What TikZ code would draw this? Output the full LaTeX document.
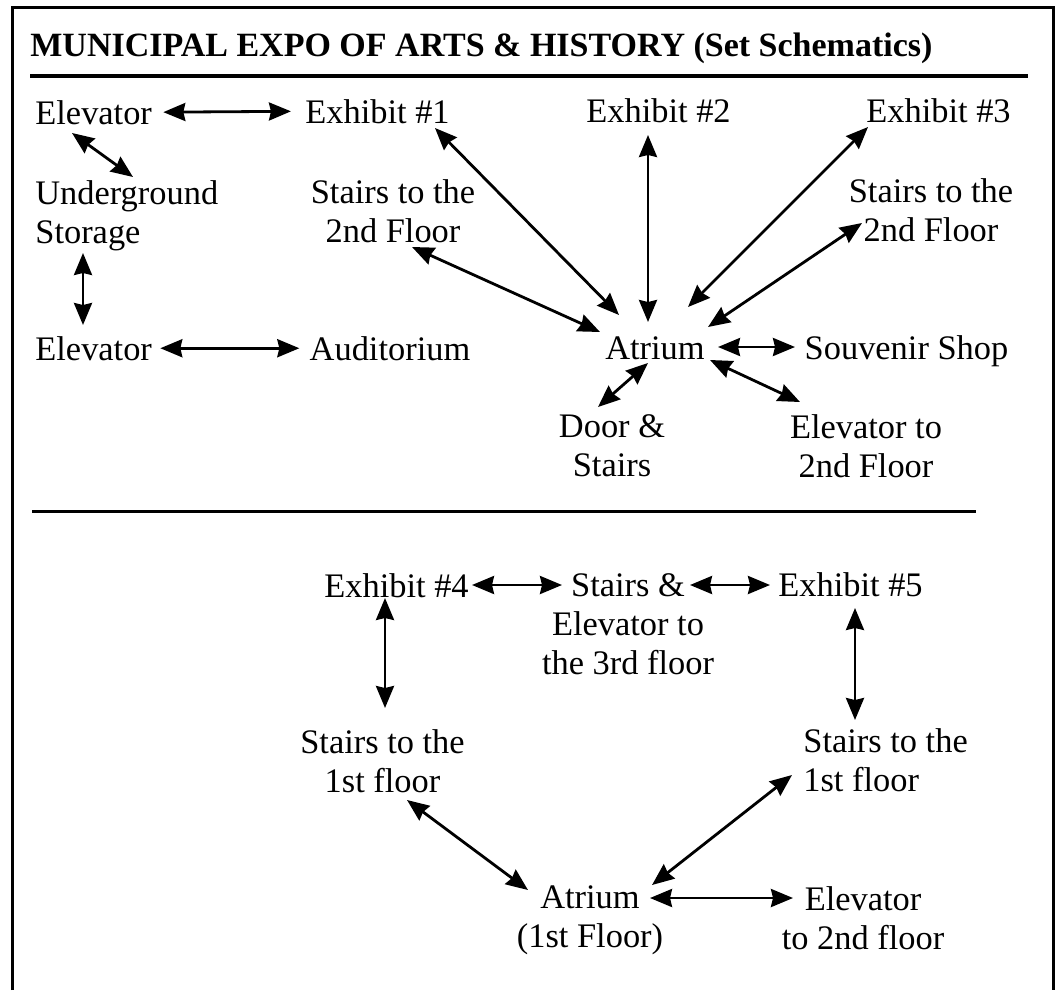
\documentclass[tikz,border=0pt]{standalone}
\usepackage{fontspec}
\setmainfont{Liberation Serif}
\usetikzlibrary{arrows.meta}
\newcommand{\mapfont}{\fontsize{17.2}{19.5}\selectfont}
\newcommand{\headfont}{\fontsize{17}{19.5}\selectfont\bfseries}
\tikzstyle{word}=[inner sep=0pt, anchor=base, font=\mapfont]
\tikzstyle{words}=[inner sep=0pt, align=center, font=\mapfont]
\tikzstyle{link}=[{Stealth[length=11pt,width=9pt,inset=1pt]}-{Stealth[length=11pt,width=9pt,inset=1pt]}, line width=1.4pt]

\begin{document}
\begin{tikzpicture}[x=0.5pt,y=-0.5pt]
  \useasboundingbox (0,0) rectangle (1063,990);
  \draw[line width=1.5pt] (12,990) -- (12,8) -- (1053,8) -- (1053,990);
  \node at (30,57) (title)[word, anchor=base west, font=\headfont] {MUNICIPAL EXPO OF ARTS \& HISTORY (Set Schematics)};
  \draw[line width=2pt] (30,76) -- (1028,76);
  \draw[line width=1.5pt] (32,511) -- (976,511);

  % ground floor
  \node at (35,124) (elvA)[word, anchor=base west] {Elevator};
  \node at (377.5,123) (exA)[word] {Exhibit \#1};
  \node at (658.5,122) (exB)[word] {Exhibit \#2};
  \node at (938.5,122) (exC)[word] {Exhibit \#3};
  \node at (35,215.5) (ugs)[words, align=left, anchor=west] {Underground\\Storage};
  \node at (393,210.75) (stL)[words] {Stairs to the\\2nd Floor};
  \node at (931,209.75) (stR)[words] {Stairs to the\\2nd Floor};
  \node at (35,360) (elvB)[word, anchor=base west] {Elevator};
  \node at (390,360) (aud)[word] {Auditorium};
  \node at (655,359) (atr)[word] {Atrium};
  \node at (906.5,359) (shop)[word] {Souvenir Shop};
  \node at (612,445.85) (door)[words] {Door \&\\Stairs};
  \node at (866,445.75) (elvT)[words] {Elevator to\\2nd Floor};

  \draw[link, shorten <=5.5pt, shorten >=7pt] (elvA.east) -- (exA.west);
  \draw[link] ([shift={(37,9)}]elvA.base west) -- ([shift={(98,-38.5)}]ugs.west);
  \draw[link] ([shift={(48,37.5)}]ugs.west) -- ([shift={(48,-35)}]elvB.base west);
  \draw[link, shorten <=4pt, shorten >=5pt] (elvB.east) -- (aud.west);
  \draw[link] ([shift={(57.5,5)}]exA.base) -- ([shift={(-36,-44)}]atr.base);
  \draw[link] ([shift={(19,36.25)}]stL.center) -- ([shift={(-55,-27)}]atr.base);
  \draw[link] ([shift={(-10.5,13)}]exB.base) -- ([shift={(-7,-37)}]atr.base);
  \draw[link] ([shift={(-70.5,5)}]exC.base) -- ([shift={(33,-52)}]atr.base);
  \draw[link] ([shift={(-69,13.25)}]stR.center) -- ([shift={(53,-32)}]atr.base);
  \draw[link] ([shift={(63,-12)}]atr.base) -- ([shift={(-111.5,-12)}]shop.base);
  \draw[link] ([shift={(-7,4)}]atr.base) -- ([shift={(-14,-38.85)}]door.center);
  \draw[link] ([shift={(55,1)}]atr.base) -- ([shift={(-66,-43.75)}]elvT.center);

  % first floor
  \node at (396.5,597) (exD)[word] {Exhibit \#4};
  \node at (628,624.35) (se3)[words] {Stairs \&\\Elevator to\\the 3rd floor};
  \node at (850.5,596) (exE)[word] {Exhibit \#5};
  \node at (382.5,760.75) (sfL)[words] {Stairs to the\\1st floor};
  \node at (803,759.75) (sfR)[words, align=left, anchor=west] {Stairs to the\\1st floor};
  \node at (590,920.45) (atrB)[words] {Atrium\\(1st Floor)};
  \node at (863,917.75) (elvF)[words] {Elevator\\to 2nd floor};

  \draw[link] ([shift={(75.5,-12)}]exD.base) -- ([shift={(-66,-39.35)}]se3.center);
  \draw[link] ([shift={(62,-39.35)}]se3.center) -- ([shift={(-80.5,-11)}]exE.base);
  \draw[link] ([shift={(-11.5,1)}]exD.base) -- ([shift={(2.5,-52.75)}]sfL.center);
  \draw[link] ([shift={(4.5,12)}]exE.base) -- ([shift={(52,-39.75)}]sfR.west);
  \draw[link] ([shift={(24.5,39.25)}]sfL.center) -- ([shift={(-62,-30.45)}]atrB.center);
  \draw[link] ([shift={(-11,15.25)}]sfR.west) -- ([shift={(62,-35.45)}]atrB.center);
  \draw[link] ([shift={(60,-22.45)}]atrB.center) -- ([shift={(-70,-19.75)}]elvF.center);
\end{tikzpicture}
\end{document}
